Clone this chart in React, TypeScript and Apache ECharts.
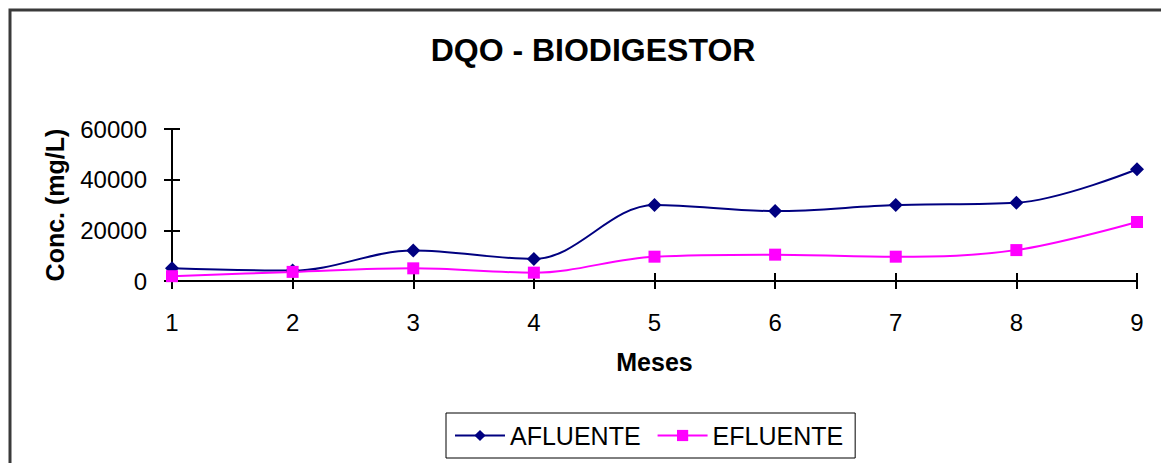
import React, { useEffect, useRef } from "react";
import * as echarts from "echarts";

const months = ["1", "2", "3", "4", "5", "6", "7", "8", "9"];
const afluente = [5000, 4100, 12000, 8700, 30000, 27600, 30000, 30900, 44100];
const efluente = [1900, 3600, 5000, 3300, 9600, 10400, 9600, 12200, 23300];
const titleText = "DQO - BIODIGESTOR";
const yName = "Conc. (mg/L)";
const xName = "Meses";

export default function App() {
  const ref = useRef<HTMLDivElement>(null);
  useEffect(() => {
    if (!ref.current) return;
    const chart = echarts.init(ref.current, null, { renderer: "svg" });
    const font = "'Liberation Sans', Arial, sans-serif";
    chart.setOption({
      animation: false,
      backgroundColor: "#ffffff",
      title: {
        text: titleText,
        left: 588,
        textAlign: "center",
        top: 29,
        textStyle: { fontFamily: font, fontSize: 32, fontWeight: "bold", color: "#000" },
      },
      graphic: [
        {
          type: "rect",
          shape: { x: 10, y: 10, width: 1300, height: 600 },
          style: { fill: "none", stroke: "#3a3a3a", lineWidth: 3 },
          silent: true,
        },
      ],
      legend: {
        left: 446,
        top: 413,
        orient: "horizontal",
        borderColor: "#000",
        borderWidth: 1,
        padding: [10, 12, 10, 8],
        itemWidth: 50,
        itemHeight: 14,
        itemGap: 16,
        textStyle: { fontFamily: font, fontSize: 25, color: "#000" },
        data: ["AFLUENTE", "EFLUENTE"],
      },
      grid: { left: 172, right: 24, top: 129, bottom: 182, containLabel: false },
      xAxis: [
        {
          type: "category",
          position: "bottom",
          data: months,
          boundaryGap: false,
          name: xName,
          nameLocation: "middle",
          nameGap: 68,
          nameTextStyle: { fontFamily: font, fontSize: 25, fontWeight: "bold", color: "#000" },
          axisLine: { lineStyle: { color: "#000", width: 2 } },
          axisTick: { show: true, inside: false, length: 8, lineStyle: { color: "#000", width: 2 } },
          axisLabel: { fontFamily: font, fontSize: 24, color: "#000", margin: 29 },
          splitLine: { show: false },
        },
        {
          type: "category",
          position: "bottom",
          offset: 0,
          data: months,
          boundaryGap: false,
          axisLine: { show: false },
          axisTick: { show: true, inside: true, length: 8, lineStyle: { color: "#000", width: 2 } },
          axisLabel: { show: false },
          splitLine: { show: false },
        },
      ],
      yAxis: [
        {
          type: "value",
          position: "left",
          min: 0,
          max: 60000,
          interval: 20000,
          name: yName,
          nameLocation: "middle",
          nameGap: 105,
          nameRotate: 90,
          nameTextStyle: { fontFamily: font, fontSize: 25, fontWeight: "bold", color: "#000" },
          axisLine: { show: true, lineStyle: { color: "#000", width: 2 } },
          axisTick: { show: true, inside: false, length: 8, lineStyle: { color: "#000", width: 2 } },
          axisLabel: {
            fontFamily: font,
            fontSize: 24,
            color: "#000",
            margin: 25,
            formatter: (v: number) => String(v),
          },
          splitLine: { show: false },
        },
        {
          type: "value",
          position: "left",
          offset: 0,
          min: 0,
          max: 60000,
          interval: 20000,
          axisLine: { show: false },
          axisTick: { show: true, inside: true, length: 8, lineStyle: { color: "#000", width: 2 } },
          axisLabel: { show: false },
          splitLine: { show: false },
        },
      ],
      series: [
        {
          name: "AFLUENTE",
          type: "line",
          data: afluente,
          smooth: 0.35,
          symbol: "diamond",
          symbolSize: 14,
          color: "#000080",
          itemStyle: { color: "#000080" },
          lineStyle: { color: "#000080", width: 2 },
        },
        {
          name: "EFLUENTE",
          type: "line",
          data: efluente,
          smooth: 0.35,
          symbol: "rect",
          symbolSize: 12,
          color: "#ff00ff",
          itemStyle: { color: "#ff00ff" },
          lineStyle: { color: "#ff00ff", width: 2 },
        },
      ],
    });
    return () => chart.dispose();
  }, []);
  return (
    <div
      ref={ref}
      style={{ position: "fixed", left: 0, top: 0, width: 1161, height: 463, background: "#fff" }}
    />
  );
}
